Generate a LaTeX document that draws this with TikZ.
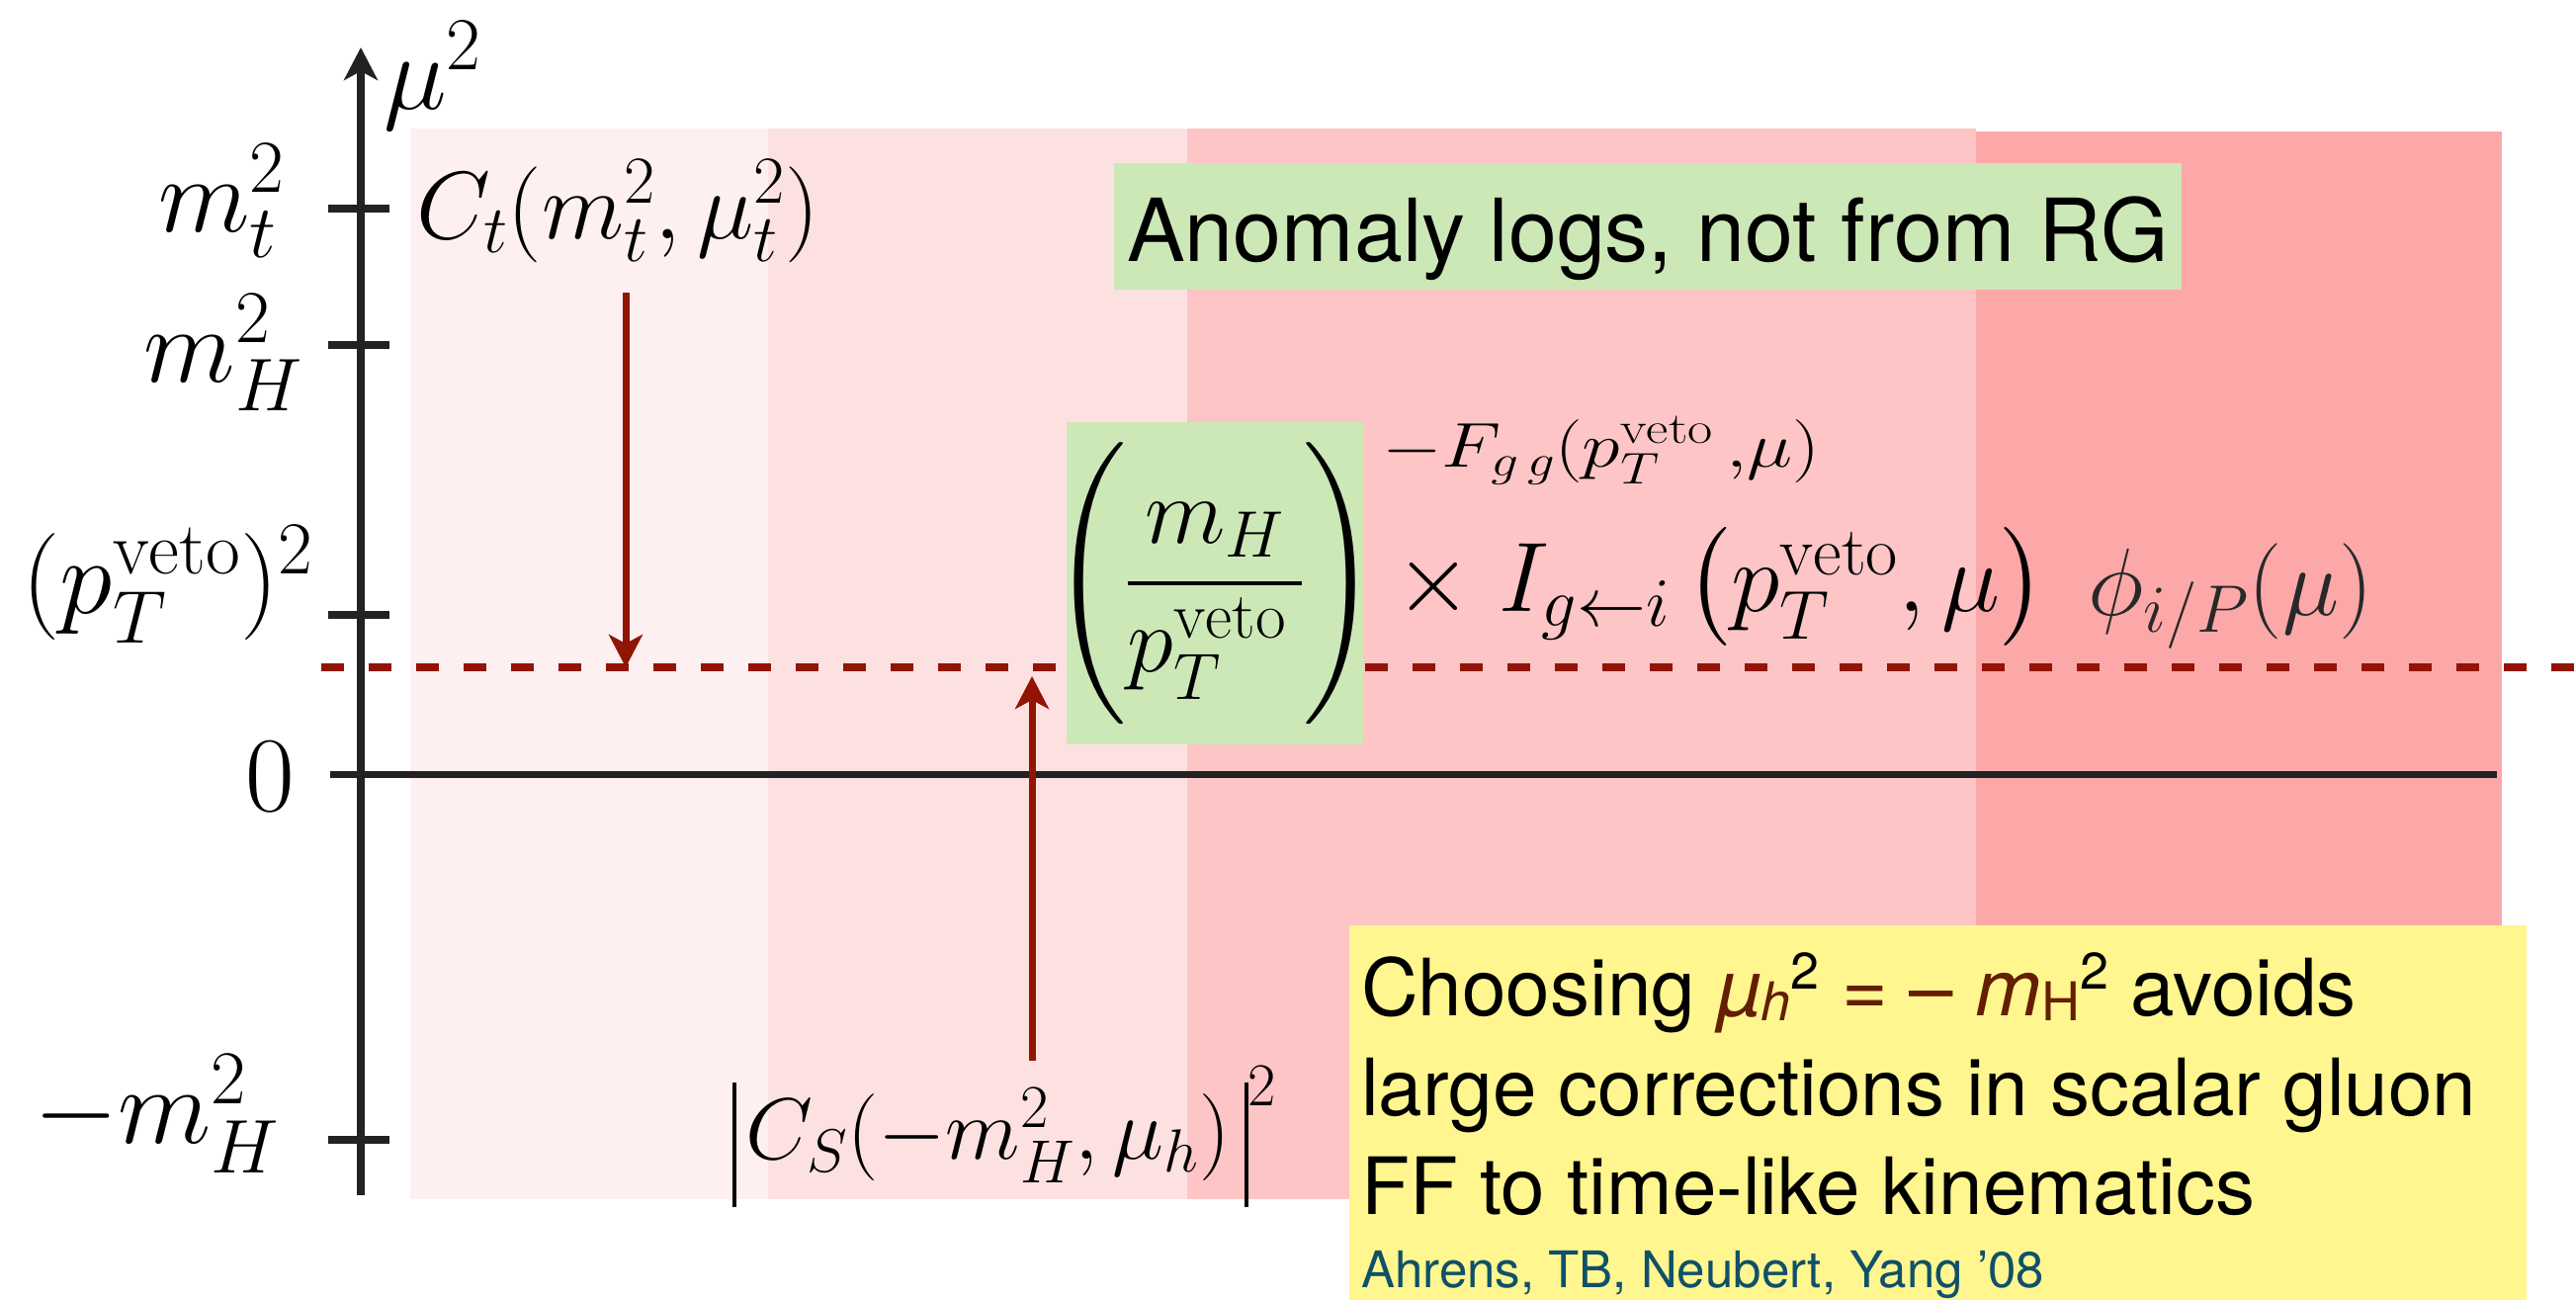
\RequirePackage{fix-cm}
\documentclass[tikz,border=0pt]{standalone}
\usepackage{amsmath}
\usepackage{graphicx}
\usepackage{fontspec}
\DeclareFontFamily{OMX}{cmex}{}
\DeclareFontShape{OMX}{cmex}{m}{n}{<->cmex10}{}
\newfontfamily\helv{TeX Gyre Heros}
\usetikzlibrary{arrows.meta}
\newcommand\fsz[1]{\fontsize{#1}{#1}\selectfont}
\newcommand\subtxt[1]{\raisebox{-5pt}{\fsz{54}#1}}
\newcommand\suptxt[1]{\raisebox{27pt}{\fsz{52}#1}}
\newcommand\absbar{\mathord{\rule[-49pt]{3.5pt}{126pt}}}
\definecolor{bandA}{RGB}{254,240,240}
\definecolor{bandB}{RGB}{253,225,225}
\definecolor{bandC}{RGB}{253,197,197}
\definecolor{bandD}{RGB}{252,168,168}
\definecolor{greenbox}{RGB}{205,232,183}
\definecolor{yellowbox}{RGB}{255,246,143}
\definecolor{arrowred}{RGB}{145,20,5}
\definecolor{axisgray}{RGB}{34,34,34}
\definecolor{brownmath}{RGB}{100,30,0}
\definecolor{citeteal}{RGB}{15,80,105}
\definecolor{phigray}{RGB}{40,40,40}
\begin{document}
\begin{tikzpicture}[x=1pt,y=-1pt,
  axisline/.style={draw=axisgray, line width=8pt},
  zeroline/.style={draw=axisgray, line width=7pt},
  redarrow/.style={draw=arrowred, line width=7pt, -{Stealth[length=33pt,width=34pt,inset=9pt]}},
  axlabel/.style={anchor=base east, inner sep=0pt, font=\fsz{108}},
  mathlabel/.style={anchor=base west, inner sep=0pt, font=\fsz{88}},
  yellowtext/.style={anchor=base west, inner sep=0pt, font=\helv\fsz{80}},
]
\useasboundingbox (0,0) rectangle (2606,1314);
% bands
\fill[bandA] (415,130) rectangle (777,1213);
\fill[bandB] (777,130) rectangle (1201,1213);
\fill[bandC] (1201,130) rectangle (1999,1213);
\fill[bandD] (1999,133) rectangle (2531,1213);
% axis
\coordinate (axbot) at (365,1209);
\coordinate (axtop) at (365,48);
\draw[axisline, -{Stealth[length=33pt,width=34pt,inset=9pt]}] (axbot) -- (axtop);
\draw[axisline] (332,211) -- (394,211);
\draw[axisline] (332,349) -- (394,349);
\draw[axisline] (332,622) -- (394,622);
\draw[axisline] (332,1153) -- (394,1153);
\coordinate (zeroL) at (334,783);
\coordinate (zeroR) at (2526,783);
\draw[zeroline] (zeroL) -- (zeroR);
% dashed line
\coordinate (dashL) at (325,675);
\coordinate (dashR) at (2606,675);
\draw[draw=arrowred, line width=8.5pt, dash pattern=on 23pt off 25pt] (dashL) -- (dashR);
% axis labels
\node[anchor=base west, inner sep=0pt, font=\fsz{108}] (mu2) at (388,110) {$\mu^2$};
\node[axlabel] (mt) at (288,234) {$m_t^2$};
\node[axlabel] (mH) at (306,386) {$m_H^2$};
\node[axlabel] (pT) at (317,620) {$(p_T^{\mathrm{veto}})^2$};
\node[axlabel] (zero) at (298,820) {$0$};
\node[axlabel, font=\fsz{110}] (mmH) at (283,1156) {$-m_H^2$};
% labels
\node[mathlabel, font=\fsz{97}] (Ct) at (421,241) {$C_t(m_t^2,\mu_t^2)$};
\node[mathlabel] (CS) at (741,1172) {$\absbar\mkern2mu C_S(-m_H^2,\mu_h)\mkern3mu{\absbar}^2$};
% arrows
\coordinate (ctfoot) at (633,296);
\coordinate (dashA) at (633,675);
\coordinate (csfoot) at (1044,1073);
\coordinate (dashB) at (1044,684);
\draw[redarrow] (ctfoot) -- (dashA);
\draw[redarrow] (csfoot) -- (dashB);
% anomaly box
\node[fill=greenbox, anchor=base west, inner xsep=13pt, inner ysep=0pt, text height=99pt, text depth=29pt, font=\helv\fsz{88}] (anom) at (1127,264) {Anomaly logs, not from RG};
% fraction box
\node[fill=greenbox, anchor=north west, minimum width=294pt, minimum height=326pt, inner sep=0pt, font=\fsz{95}] (frac) at (1079,427) {$\displaystyle\mkern-2.8mu\left(\vphantom{\rule[-103pt]{0pt}{254pt}}\frac{m_H}{p_T^{\mathrm{veto}}\mkern3mu}\right)\mkern-2.8mu$};
\node[anchor=base west, inner sep=0pt, font=\fsz{64}] (expo) at (1398,472) {\scalebox{1.22}[1]{$-F_{g\,g}(p_T^{\mathrm{veto}}\,{,}\mu)$}};
\node[anchor=base west, inner sep=0pt, font=\fsz{100}] (Ig) at (1411,618) {$\times\; I_{g\leftarrow i}\left(p_T^{\mathrm{veto}},\mu\right)$};
\node[anchor=base west, inner sep=0pt, font=\fsz{97}, text=phigray] (phi) at (2112,622) {$\phi_{i/P}(\mu)$};
% yellow note
\node[fill=yellowbox, anchor=north west, minimum width=1191pt, minimum height=400pt, inner sep=0pt] (note) at (1365,936) {};
\node[yellowtext] (l1) at (1377,1027) {Choosing \textcolor{brownmath}{\textit{µ}\subtxt{\textit{h}}}\suptxt{2} \textcolor{brownmath}{= – \textit{m}\subtxt{H}}\suptxt{2} avoids};
\node[yellowtext] (l2) at (1377,1128) {large corrections in scalar gluon};
\node[yellowtext] (l3) at (1377,1228) {FF to time-like kinematics};
\node[anchor=base west, inner sep=0pt, font=\helv\fsz{51}, text=citeteal] (cite) at (1377,1302) {Ahrens, TB, Neubert, Yang ’08};
\end{tikzpicture}
\end{document}
